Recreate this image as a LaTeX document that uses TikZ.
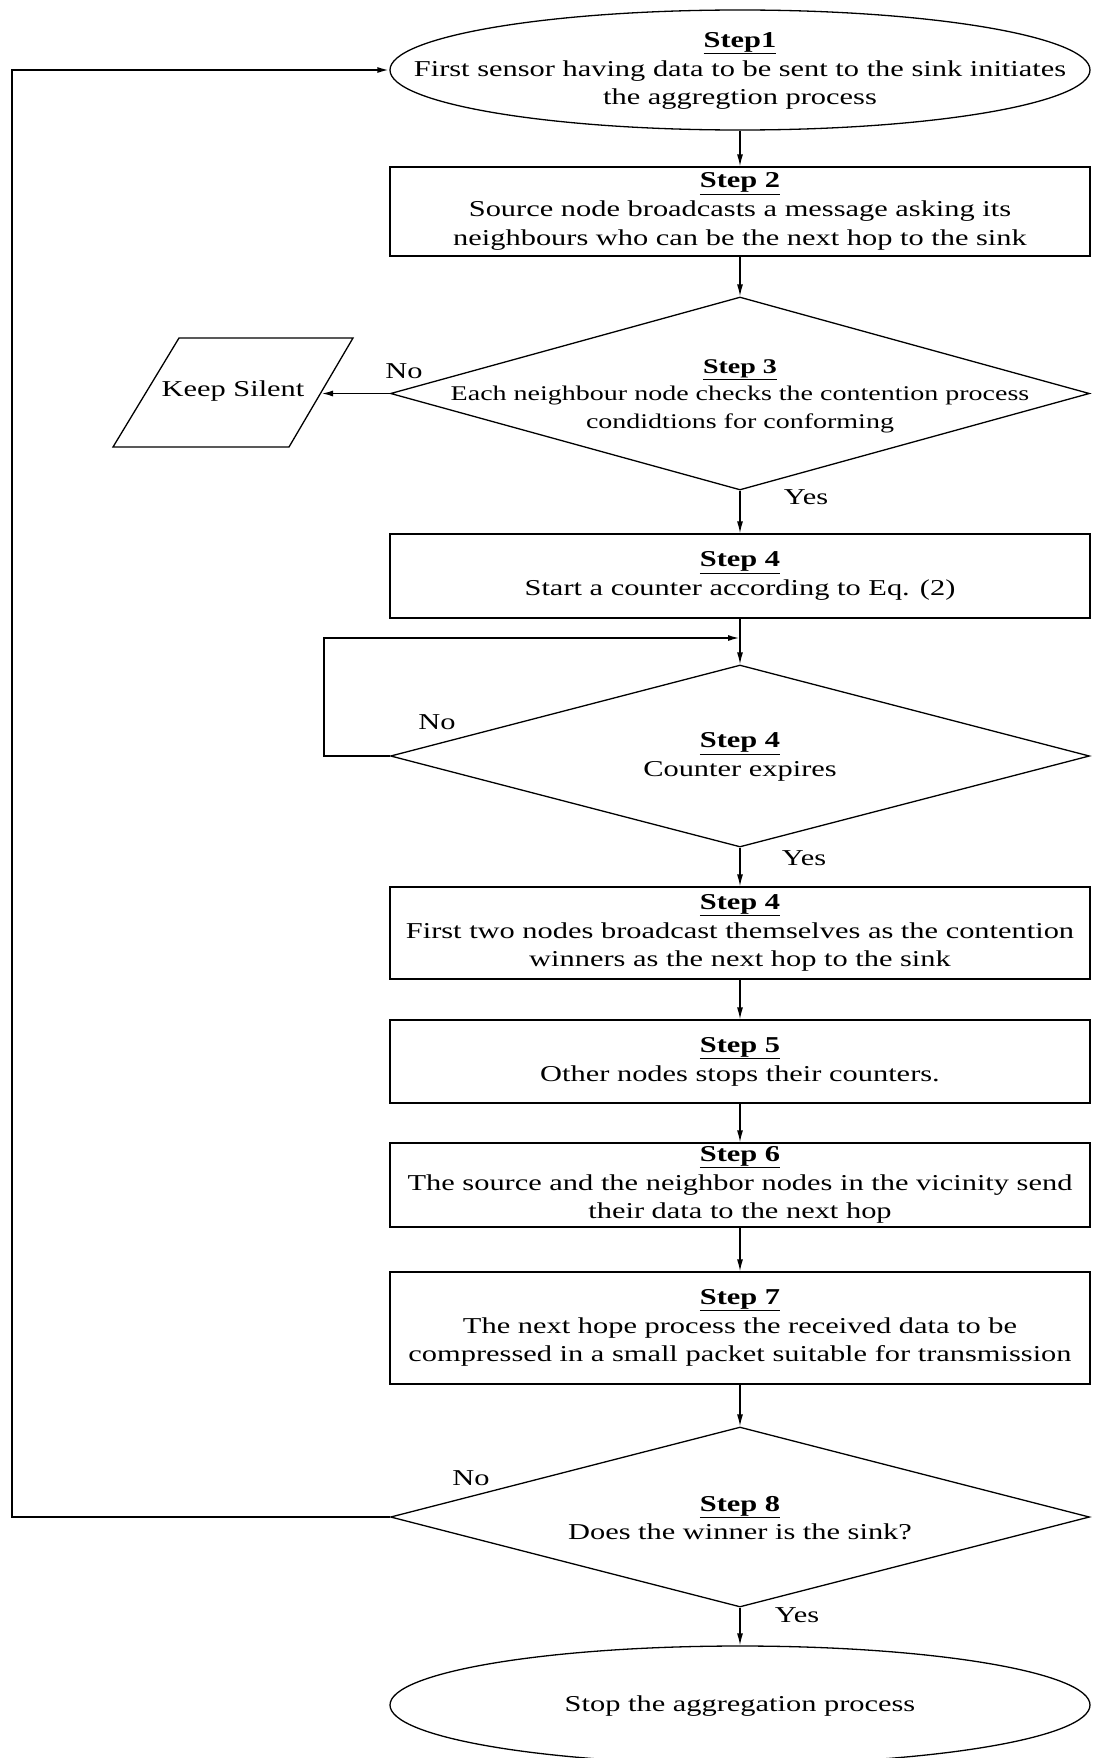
\documentclass[tikz,border=0pt]{standalone}
\usepackage{fontspec}
\setmainfont{Liberation Serif}[FakeStretch=1.34]
\usetikzlibrary{shapes.geometric,arrows.meta}
\newcommand{\mainfs}{\fontsize{22.7}{28.8}\selectfont}
\newcommand{\smallfs}{\fontsize{20.9}{27.5}\selectfont}
\newcommand{\ttl}[1]{\underline{\textbf{#1}}}
\begin{document}
\begin{tikzpicture}[x=1pt,y=-1pt,
  shapeline/.style={draw, line width=1.3pt, inner sep=0pt},
  box/.style={shapeline, rectangle, minimum width=700pt, align=center, font=\mainfs},
  oval/.style={shapeline, ellipse, minimum width=700pt},
  dia/.style={shapeline, diamond, minimum width=699pt},
  txt/.style={inner sep=0pt, align=center, font=\mainfs},
  conn/.style={line width=1.3pt, -{Latex[length=12pt,width=6pt]}},
  fb/.style={line width=1.9pt, -{Latex[length=12pt,width=6pt]}},
  lbl/.style={inner sep=0pt, font=\mainfs}
]
\useasboundingbox (0,0) rectangle (1092,1758);

% Step 1
\node[oval, minimum height=120pt] (e1) at (740,70) {};
\node[txt] (e1t) at (740,71) {\ttl{Step1}\\First sensor having data to be sent to the sink initiates\\the aggregtion process};

% Step 2
\node[box, minimum height=89pt] (s2) at (740,211.5) {\ttl{Step 2}\\Source node broadcasts a message asking its\\neighbours who can be the next hop to the sink};

% Step 3 decision
\node[dia, minimum height=193pt] (d1) at (740,393.5) {};
\node[txt, font=\smallfs] (d1t) at (740,396) {\ttl{Step 3}\\Each neighbour node checks the contention process\\condidtions for conforming};

% Keep silent
\coordinate (ka) at (179,338);
\coordinate (kb) at (353,338);
\coordinate (kc) at (289,447);
\coordinate (kd) at (113,447);
\draw[line width=1.3pt] (ka) -- (kb) -- (kc) -- (kd) -- cycle;
\node[txt] (ks) at (233,391) {Keep Silent};
\coordinate (kin) at (321,393.5);

% Step 4
\node[box, minimum height=84pt] (s4) at (740,576) {\ttl{Step 4}\\Start a counter according to Eq. (2)};

% Step 4 decision
\node[dia, minimum height=182pt] (d2) at (740,756) {};
\node[txt] (d2t) at (740,757) {\ttl{Step 4}\\Counter expires};

% Step 4b
\node[box, minimum height=92pt] (s4b) at (740,933) {\ttl{Step 4}\\First two nodes broadcast themselves as the contention\\winners as the next hop to the sink};

% Step 5
\node[box, minimum height=83pt] (s5) at (740,1061.5) {\ttl{Step 5}\\Other nodes stops their counters.};

% Step 6
\node[box, minimum height=84pt] (s6) at (740,1185) {\ttl{Step 6}\\The source and the neighbor nodes in the vicinity send\\their data to the next hop};

% Step 7
\node[box, minimum height=112pt] (s7) at (740,1328) {\ttl{Step 7}\\The next hope process the received data to be\\compressed in a small packet suitable for transmission};

% Step 8 decision
\node[dia, minimum height=180pt] (d3) at (740,1517) {};
\node[txt] (d3t) at (740,1518) {\ttl{Step 8}\\Does the winner is the sink?};

% Stop
\node[oval, minimum height=118pt] (e2) at (740,1705) {};
\node[txt] (e2t) at (740,1706) {Stop the aggregation process};

% helper coordinates
\coordinate (j) at (740,638);
\coordinate (lp1) at (324,756);
\coordinate (lp2) at (324,638);
\coordinate (fb1) at (12,1517);
\coordinate (fb2) at (12,70);

% connectors
\draw[conn] (e1.south) -- (s2.north);
\draw[conn] (s2.south) -- (d1.north);
\draw[fb] (d1.west) -- (kin);
\draw[conn] (d1.south) -- (s4.north);
\draw[line width=1.3pt] (s4.south) -- (j);
\draw[conn] (j) -- (d2.north);
\draw[fb] (d2.west) -- (lp1) -- (lp2) -- (j);
\draw[conn] (d2.south) -- (s4b.north);
\draw[conn] (s4b.south) -- (s5.north);
\draw[conn] (s5.south) -- (s6.north);
\draw[conn] (s6.south) -- (s7.north);
\draw[conn] (s7.south) -- (d3.north);
\draw[fb] (d3.west) -- (fb1) -- (fb2) -- (e1.west);
\draw[conn] (d3.south) -- (e2.north);

% labels
\node[lbl] (no1) at (404,371) {No};
\node[lbl] (yes1) at (806,497) {Yes};
\node[lbl] (no2) at (437,722) {No};
\node[lbl] (yes2) at (804,858) {Yes};
\node[lbl] (no3) at (471,1478) {No};
\node[lbl] (yes3) at (797,1615) {Yes};
\end{tikzpicture}
\end{document}
